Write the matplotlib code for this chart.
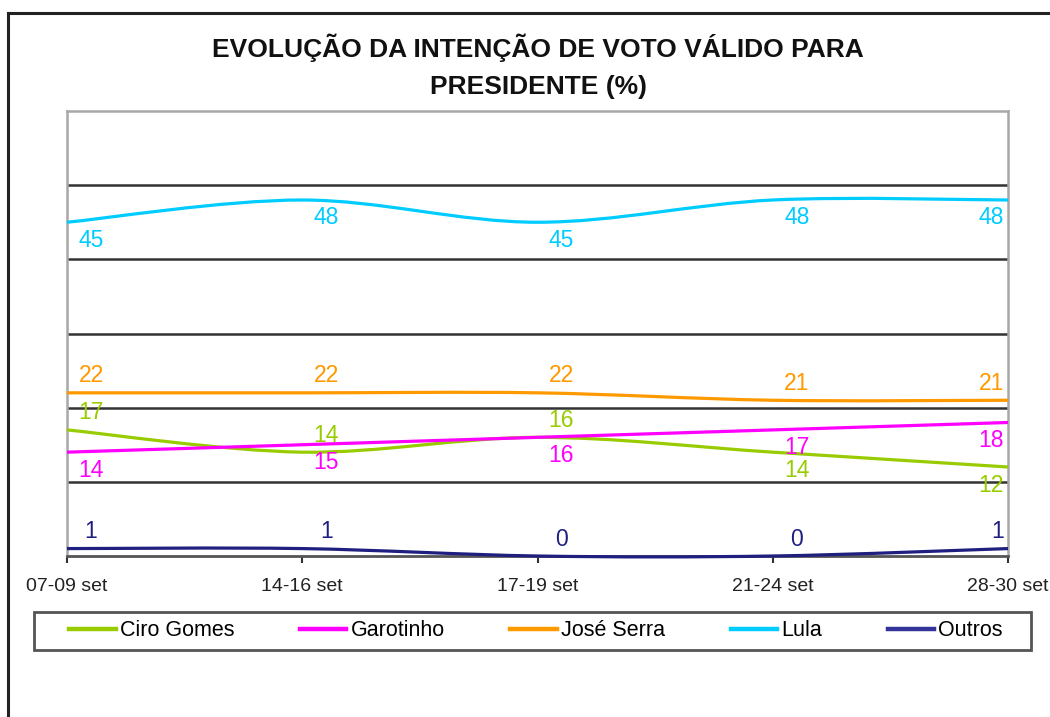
import matplotlib
matplotlib.use('Agg')
import matplotlib.pyplot as plt
from matplotlib.path import Path
from matplotlib.patches import PathPatch, Rectangle
from matplotlib.lines import Line2D

plt.rcParams['font.family'] = ['Liberation Sans', 'DejaVu Sans']

# ---- data ----
categories = ['07-09 set', '14-16 set', '17-19 set', '21-24 set', '28-30 set']
ciro = [17, 14, 16, 14, 12]
garotinho = [14, 15, 16, 17, 18]
serra = [22, 22, 22, 21, 21]
lula = [45, 48, 45, 48, 48]
outros = [1, 1, 0, 0, 1]
series_names = ['Ciro Gomes', 'Garotinho', 'José Serra', 'Lula', 'Outros']
title = 'EVOLUÇÃO DA INTENÇÃO DE VOTO VÁLIDO PARA\nPRESIDENTE (%)'

# ---- style ----
series_values = [ciro, garotinho, serra, lula, outros]
colors = ['#99CC00', '#FF00FF', '#FF9900', '#00CCFF', '#1F1F80']
legend_colors = ['#99CC00', '#FF00FF', '#FF9900', '#00CCFF', '#333399']
label_side = [
    ['a', 'a', 'a', 'b', 'b'],
    ['b', 'b', 'b', 'b', 'b'],
    ['a', 'a', 'a', 'a', 'a'],
    ['b', 'b', 'b', 'b', 'b'],
    ['a', 'a', 'a', 'a', 'a'],
]


def smooth_path(xs, ys):
    pts = list(zip(xs, ys))
    n = len(pts)
    verts = [pts[0]]
    codes = [Path.MOVETO]
    for i in range(n - 1):
        p0 = pts[i - 1] if i > 0 else pts[i]
        p1 = pts[i]
        p2 = pts[i + 1]
        p3 = pts[i + 2] if i + 2 < n else pts[i + 1]
        c1 = (p1[0] + (p2[0] - p0[0]) / 6.0, p1[1] + (p2[1] - p0[1]) / 6.0)
        c2 = (p2[0] - (p3[0] - p1[0]) / 6.0, p2[1] - (p3[1] - p1[1]) / 6.0)
        verts += [c1, c2, p2]
        codes += [Path.CURVE4] * 3
    return Path(verts, codes)


W, H = 1050, 717
fig = plt.figure(figsize=(W / 100, H / 100), dpi=100)
fig.patch.set_facecolor('white')

# outer frame (left and top)
fig.add_artist(Line2D([8 / W, 8 / W], [0, 1 - 13 / H], transform=fig.transFigure,
                      color='#222222', lw=2.2))
fig.add_artist(Line2D([8 / W, 1], [1 - 13 / H, 1 - 13 / H], transform=fig.transFigure,
                      color='#222222', lw=2.2))

left, right, top, bottom = 67, 1008, 111, 556
ax = fig.add_axes([left / W, 1 - bottom / H, (right - left) / W, (bottom - top) / H])

x = list(range(len(categories)))
ax.set_xlim(0, len(categories) - 1)
ax.set_ylim(0, 60)

ax.set_yticks([10, 20, 30, 40, 50])
ax.tick_params(axis='y', length=0, labelleft=False)
ax.grid(axis='y', color='#333333', lw=1.8)
ax.set_axisbelow(True)

ax.set_xticks(x)
ax.set_xticklabels(categories, fontsize=14, color='#222222')
ax.tick_params(axis='x', direction='out', length=5, width=1.5, color='#333333', pad=11)

for side in ['left', 'right', 'top']:
    ax.spines[side].set_color('#A8A8A8')
    ax.spines[side].set_linewidth(1.8)
ax.spines['bottom'].set_color('#555555')
ax.spines['bottom'].set_linewidth(2)

for vals, col, sides in zip(series_values, colors, label_side):
    patch = PathPatch(smooth_path(x, vals), fill=False, edgecolor=col, lw=2.3,
                      clip_on=False, zorder=3, capstyle='butt')
    ax.add_patch(patch)
    for i, v in enumerate(vals):
        dy = 17 if sides[i] == 'a' else -18
        if i == len(vals) - 1:
            dx, ha = -4, 'right'
        else:
            dx, ha = 24, 'center'
        ax.annotate(str(v), (i, v), xytext=(dx, dy), textcoords='offset pixels',
                    ha=ha, va='center', color=col, fontsize=16.5, zorder=4)

fig.text(538 / W, 1 - 66 / H, title, ha='center', va='center', fontsize=19,
         fontweight='bold', color='#111111', linespacing=1.7)

# legend frame
fig.add_artist(Rectangle((34 / W, 1 - 650 / H), (1031 - 34) / W, 38 / H,
                         transform=fig.transFigure, fill=False,
                         edgecolor='#555555', lw=2))
handles = [Line2D([], [], color=c, lw=3.2) for c in legend_colors]
leg = fig.legend(handles, series_names, loc='center', ncol=5,
                 bbox_to_anchor=(536 / W, 1 - 631 / H),
                 bbox_transform=fig.transFigure, fontsize=15.5, frameon=False,
                 handlelength=2.15, handletextpad=0.2, columnspacing=3.05,
                 borderaxespad=0, borderpad=0)

fig.savefig('out.png', dpi=100, facecolor='white')
